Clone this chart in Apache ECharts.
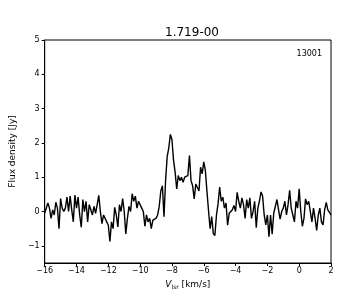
<!DOCTYPE html>
<html><head><meta charset="utf-8">
<script src="https://cdn.jsdelivr.net/npm/echarts@6/dist/echarts.min.js"></script>
<style>html,body{margin:0;padding:0;background:#fff}#c{width:360px;height:300px}</style>
</head><body><div id="c"></div>
<script>
const titleText = "1.719-00";
const sourceId = "13001";
const velStart = -16.0, velStep = 0.1;
const flux = [
 -0.05, 0.0, 0.25, 0.1, -0.2, 0.05, -0.1, 0.27, 0.1, -0.5,
 0.38, 0.1, 0.0, 0.1, 0.42, 0.0, 0.45, 0.05, -0.3, 0.48,
 0.1, 0.42, -0.1, -0.46, 0.35, 0.0, 0.3, -0.3, 0.2, 0.05,
 -0.1, 0.15, -0.05, 0.2, 0.47, 0.0, -0.35, -0.1, -0.05, -0.3,
 -0.4, -0.87, -0.3, -0.5, 0.12, -0.1, -0.45, 0.2, 0.0, 0.38,
 0.0, -0.65, -0.2, 0.15, 0.0, 0.52, 0.3, 0.45, 0.1, 0.3,
 0.3, 0.1, 0.0, -0.43, -0.1, -0.3, -0.2, -0.5, -0.25, -0.3,
 -0.2, -0.1, 0.15, 0.6, 0.75, -0.15, 0.9, 1.6, 1.85, 2.25,
 2.1, 1.5, 1.15, 0.66, 1.05, 0.9, 1.0, 0.85, 1.0, 0.95,
 1.05, 1.63, 0.9, 0.75, 0.37, 0.8, 0.7, 0.6, 1.29, 1.1,
 1.45, 1.2, 0.6, 0.03, -0.5, -0.15, -0.64, -0.7, -0.1, 0.23,
 0.71, 0.3, 0.42, 0.1, 0.25, -0.4, -0.05, -0.1, 0.05, 0.18,
 0.0, 0.56, 0.3, 0.1, 0.4, 0.2, -0.2, 0.35, 0.1, 0.4,
 -0.2, 0.0, 0.3, -0.47, 0.1, 0.3, 0.57, 0.45, -0.1, -0.39,
 -0.1, -0.73, -0.1, -0.66, -0.05, 0.15, 0.35, 0.32, -0.22, 0.0,
 0.1, 0.3, -0.1, 0.2, 0.62, 0.1, -0.1, -0.3, 0.3, 0.1,
 0.66, 0.0, -0.43, -0.2, 0.37, 0.2, 0.3, 0.0, -0.3, 0.1,
 -0.2, -0.55, -0.1, 0.1, -0.3, -0.39, 0.05, 0.27, 0.05, 0.1, -0.1
];
const yTicks = [-1, 0, 1, 2, 3, 4, 5];
const xTicks = [-16, -14, -12, -10, -8, -6, -4, -2, 0, 2];

const data = flux.map((v, i) => [+(velStart + i * velStep).toFixed(2), v]);
const fam = "DejaVu Sans, sans-serif";
const chart = echarts.init(document.getElementById('c'), null, {renderer: 'canvas'});
chart.setOption({
  animation: false,
  title: [
    {text: titleText, left: 187, top: 22, textAlign: 'center',
     textStyle: {fontSize: 12, fontWeight: 'normal', color: '#000', fontFamily: fam}},
    {text: sourceId, right: 33, top: 45,
     textStyle: {fontSize: 8, fontWeight: 'normal', color: '#000', fontFamily: fam}}
  ],
  grid: {left: 43, right: 29, top: 40, bottom: 37, show: true, borderColor: '#000', borderWidth: 1, backgroundColor: 'transparent'},
  xAxis: {
    type: 'value', min: -16, max: 2, interval: 2,
    name: '{i|V}{s|lsr} [km/s]', nameLocation: 'middle', nameGap: 17,
    nameTextStyle: {color: '#000', fontSize: 9, fontFamily: fam,
      rich: {i: {fontStyle: 'italic', fontSize: 9, fontFamily: fam, color: '#000'},
             s: {fontSize: 6, fontFamily: fam, color: '#000', verticalAlign: 'bottom', padding: [4, 0, 0, 0]}}},
    axisLine: {show: true, onZero: false, lineStyle: {color: '#000', width: 1}},
    axisTick: {show: true, inside: false, length: 3, lineStyle: {color: '#000'}},
    axisLabel: {color: '#000', fontSize: 8, fontFamily: fam, margin: 4,
      customValues: xTicks, formatter: v => (v < 0 ? '\u2212' + Math.abs(v) : '' + v)},
    splitLine: {show: false}
  },
  yAxis: {
    type: 'value', min: -1.5, max: 5,
    name: 'Flux density [Jy]', nameLocation: 'middle', nameGap: 26,
    nameTextStyle: {color: '#000', fontSize: 9, fontFamily: fam},
    axisLine: {show: true, onZero: false, lineStyle: {color: '#000', width: 1}},
    axisTick: {show: true, inside: false, length: 3, lineStyle: {color: '#000'}, customValues: yTicks},
    axisLabel: {color: '#000', fontSize: 8, fontFamily: fam, margin: 5, customValues: yTicks,
      formatter: v => (v < 0 ? '\u2212' + Math.abs(v) : '' + v)},
    splitLine: {show: false}
  },
  series: [{
    type: 'line', data: data, showSymbol: false, symbol: 'none',
    lineStyle: {color: '#000', width: 1.4}, clip: true
  }]
});
</script></body></html>
